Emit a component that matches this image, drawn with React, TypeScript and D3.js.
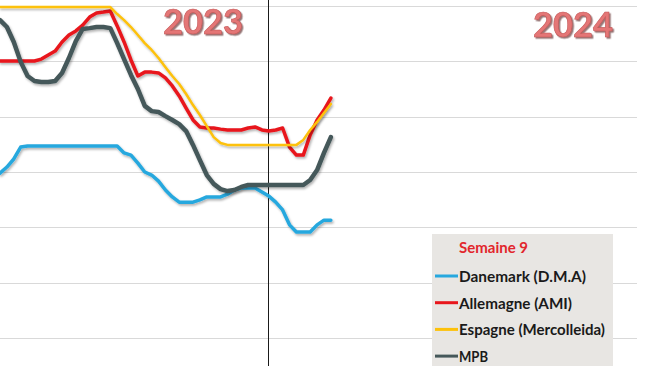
import React from 'react';
import * as d3 from 'd3';

// weeks 13..52 of 2023, then 2024 weeks 1..9 as 53..61
const weeks = [13, 14, 15, 16, 17, 18, 19, 20, 21, 22, 23, 24, 25, 26, 27, 28, 29, 30, 31, 32, 33, 34, 35, 36, 37, 38, 39, 40, 41, 42, 43, 44, 45, 46, 47, 48, 49, 50, 51, 52, 53, 54, 55, 56, 57, 58, 59, 60, 61];

const danemark = [1.796, 1.818, 1.847, 1.890, 1.894, 1.894, 1.894, 1.894, 1.894, 1.894, 1.894, 1.894, 1.894, 1.894, 1.894, 1.894, 1.894, 1.894,
  1.869, 1.861, 1.832, 1.800, 1.789, 1.767, 1.735, 1.710, 1.691, 1.691, 1.691, 1.699, 1.710, 1.710, 1.710, 1.720, 1.735, 1.742, 1.742, 1.742,
  1.728, 1.713, 1.691, 1.663, 1.609, 1.583, 1.583, 1.583, 1.609, 1.626, 1.626];

const allemagne = [2.201, 2.201, 2.201, 2.201, 2.201, 2.201, 2.208, 2.223, 2.237, 2.270, 2.295, 2.310, 2.331, 2.360, 2.375, 2.378, 2.382,
  2.328, 2.270, 2.205, 2.147, 2.161, 2.161, 2.158, 2.140, 2.111, 2.075, 2.031, 1.988, 1.963, 1.959, 1.959, 1.955, 1.952, 1.952, 1.952,
  1.959, 1.963, 1.952, 1.948, 1.952, 1.959, 1.890, 1.861, 1.861, 1.934, 1.988, 2.024, 2.067];

const espagne = [2.396, 2.396, 2.396, 2.396, 2.396, 2.396, 2.396, 2.396, 2.396, 2.396, 2.396, 2.396, 2.396, 2.396, 2.396, 2.396, 2.396,
  2.371, 2.349, 2.324, 2.295, 2.266, 2.241, 2.212, 2.179, 2.147, 2.118, 2.082, 2.042, 2.006, 1.966, 1.926, 1.905,
  1.898, 1.898, 1.898, 1.898, 1.898, 1.898, 1.898, 1.898, 1.898, 1.898, 1.898, 1.916, 1.952, 1.981, 2.013, 2.046];

const mpb = [2.349, 2.324, 2.270, 2.198, 2.147, 2.129, 2.125, 2.125, 2.129, 2.158, 2.212, 2.273, 2.317, 2.320, 2.324, 2.324, 2.320,
  2.266, 2.208, 2.151, 2.100, 2.039, 2.020, 2.017, 2.002, 1.988, 1.973, 1.948, 1.898, 1.843, 1.789, 1.757, 1.738, 1.731, 1.735, 1.746, 1.753,
  1.753, 1.753, 1.753, 1.753, 1.753, 1.753, 1.753, 1.753, 1.771, 1.807, 1.869, 1.926];

const gridValues = [2.4, 2.2, 2.0, 1.8, 1.6, 1.4, 1.2];
const yearBoundary = 52;

const series = [
  { name: 'Danemark (D.M.A)', values: danemark, color: '#27a8de', width: 3.5 },
  { name: 'Allemagne (AMI)', values: allemagne, color: '#e8161c', width: 3.5 },
  { name: 'Espagne (Mercolleida)', values: espagne, color: '#fdc10a', width: 2.5 },
  { name: 'MPB', values: mpb, color: '#45585a', width: 4.5 },
];

const legendWidths = [127, 113, 146, 29];

export default function App() {
  const W = 650, H = 366;
  const x = d3.scaleLinear().domain([13, 107.3]).range([0, W]);
  const y = d3.scaleLinear().domain([1.2, 2.4]).range([338, 6]);
  const line = d3.line<number>()
    .x((_, i) => x(weeks[i]))
    .y(d => y(d));

  const font = 'Lato, "Open Sans", sans-serif';

  return (
    <svg width={W} height={H} style={{ position: 'fixed', left: 0, top: 0, background: '#fff' }}>
      <defs>
        <filter id="sh" x="-10%" y="-10%" width="120%" height="130%">
          <feDropShadow dx="1.2" dy="1.8" stdDeviation="1" floodColor="#000" floodOpacity="0.3" />
        </filter>
        <filter id="tsh" x="-10%" y="-10%" width="130%" height="140%">
          <feDropShadow dx="1.5" dy="1.5" stdDeviation="0.6" floodColor="#6b3b3b" floodOpacity="0.7" />
        </filter>
      </defs>
      <rect width={W} height={H} fill="#fff" />
      {gridValues.map(v => (
        <line key={v} x1={0} x2={637} y1={Math.round(y(v)) + 0.5} y2={Math.round(y(v)) + 0.5} stroke="#d9d9d9" strokeWidth={1} />
      ))}
      <line x1={Math.round(x(yearBoundary)) - 0.5} x2={Math.round(x(yearBoundary)) - 0.5} y1={0} y2={H} stroke="#1a1a1a" strokeWidth={1} />
      {series.map(s => (
        <path key={s.name} d={line(s.values) || ''} fill="none" stroke={s.color} strokeWidth={s.width}
          strokeLinejoin="round" strokeLinecap="round" filter="url(#sh)" />
      ))}
      <text x={163} y={34} fontFamily={font} fontWeight={700} fontSize={35} textLength={80} lengthAdjust="spacingAndGlyphs"
        fill="#e47676" stroke="#c45858" strokeWidth={0.6} filter="url(#tsh)">2023</text>
      <text x={533} y={37} fontFamily={font} fontWeight={700} fontSize={35} textLength={80} lengthAdjust="spacingAndGlyphs"
        fill="#e47676" stroke="#c45858" strokeWidth={0.6} filter="url(#tsh)">2024</text>
      <g>
        <rect x={432} y={234} width={181} height={140} fill="#e8e6e3" />
        <text x={459} y={253} fontFamily={font} fontWeight={700} fontSize={14.5} fill="#e2262c" textLength={69} lengthAdjust="spacingAndGlyphs">Semaine 9</text>
        {series.map((s, i) => {
          const base = 282 + i * 26.7;
          return (
            <g key={s.name}>
              <line x1={435} x2={458} y1={base - 6} y2={base - 6} stroke={s.color} strokeWidth={3} />
              <text x={459} y={base} fontFamily={font} fontWeight={700} fontSize={15} fill="#1a1a1a"
                textLength={legendWidths[i]} lengthAdjust="spacingAndGlyphs">{s.name}</text>
            </g>
          );
        })}
      </g>
    </svg>
  );
}
